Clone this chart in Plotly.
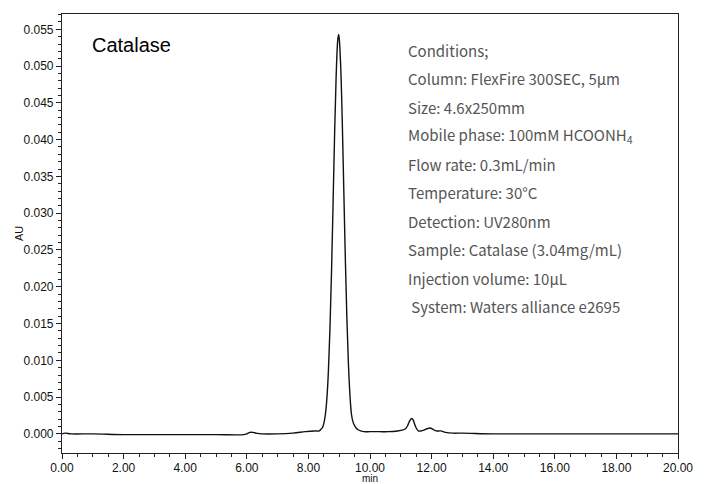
import plotly.graph_objects as go

# Chromatogram
time_min = [0.00, 0.10, 0.30, 1.00, 2.00, 3.00, 4.00, 5.00, 5.90, 6.00, 6.10, 6.20, 6.30, 6.50,
            7.00, 7.50, 7.90, 8.20, 8.35, 8.40, 8.45, 8.50, 8.55, 8.60, 8.65, 8.70, 8.75, 8.80,
            8.85, 8.90, 8.95, 8.98, 9.00, 9.05, 9.10, 9.15, 9.20, 9.25, 9.30, 9.35, 9.40, 9.45,
            9.50, 9.55, 9.60, 9.70, 9.80, 10.00, 10.30, 10.60, 10.90, 11.05, 11.15, 11.22, 11.28,
            11.35, 11.40, 11.45, 11.50, 11.57, 11.65, 11.75, 11.85, 11.95, 12.05, 12.15, 12.30,
            12.45, 12.70, 13.00, 14.00, 15.00, 16.00, 17.00, 18.00, 19.00, 20.00]
au = [0.0000, 0.0001, 0.0000, 0.0000, -0.0001, -0.0001, -0.0001, -0.0001, -0.0001, 0.0000, 0.0002,
      0.0002, 0.0001, 0.0000, 0.0000, 0.0001, 0.0003, 0.0004, 0.0004, 0.0006, 0.0008, 0.0014,
      0.0026, 0.0048, 0.0086, 0.0143, 0.0219, 0.0311, 0.0406, 0.0485, 0.0534, 0.0543, 0.0538,
      0.0498, 0.0424, 0.0330, 0.0237, 0.0156, 0.0095, 0.0052, 0.0026, 0.0016, 0.0011, 0.0008,
      0.0006, 0.0004, 0.0003, 0.0003, 0.0003, 0.0003, 0.0004, 0.0005, 0.0007, 0.0011, 0.0017,
      0.0021, 0.0019, 0.0013, 0.0008, 0.0004, 0.0004, 0.0005, 0.0007, 0.0008, 0.0006, 0.0004,
      0.0004, 0.0002, 0.0001, 0.0001, 0.0000, 0.0000, -0.0000, 0.0000, 0.0000, 0.0000, 0.0000]

x_tick_vals = [0, 2, 4, 6, 8, 10, 12, 14, 16, 18, 20]
y_tick_vals = [0.000, 0.005, 0.010, 0.015, 0.020, 0.025, 0.030, 0.035, 0.040, 0.045, 0.050, 0.055]

sample_name = "Catalase"
condition_lines = [
    "Conditions;",
    "Column: FlexFire 300SEC, 5µm",
    "Size: 4.6x250mm",
    "Mobile phase: 100mM HCOONH<sub>4</sub>",
    "Flow rate: 0.3mL/min",
    "Temperature: 30°C",
    "Detection: UV280nm",
    "Sample: Catalase (3.04mg/mL)",
    "Injection volume: 10µL",
    "\u00a0System: Waters alliance e2695",
]

# the page body adds an 8px offset; compensate so the plot area lands at 62..678 x 14..453
OFF = 8
W, H = 705 - OFF, 484 - OFF
ML, MR, MT, MB = 62 - OFF, 27, 14 - OFF, 31
PW, PH = W - ML - MR, H - MT - MB


def px_to_paper_y(py):
    return 1 - (py - OFF - MT) / PH


def px_to_paper_x(px):
    return (px - OFF - ML) / PW


fig = go.Figure()
fig.add_trace(go.Scatter(x=time_min, y=au, mode="lines",
                         line=dict(color="#111111", width=1.4), line_shape="spline",
                         hoverinfo="skip", showlegend=False))

tick_font = dict(family="Liberation Sans, Arial, sans-serif", size=12, color="#111111")

fig.update_xaxes(range=[0, 20], tickvals=x_tick_vals, tickformat=".2f", automargin=False,
                 ticks="outside", ticklen=5, tickwidth=1, tickcolor="#222", ticklabelstandoff=-2,
                 minor=dict(dtick=0.5, tick0=0, ticks="outside", ticklen=3, tickcolor="#222"),
                 showline=True, linecolor="#222", linewidth=1.2, mirror=True,
                 showgrid=False, zeroline=False, tickfont=tick_font)
fig.update_yaxes(range=[-0.0026, 0.05708], tickvals=y_tick_vals, tickformat=".3f", automargin=False,
                 ticks="outside", ticklen=5, tickwidth=1, tickcolor="#222",
                 minor=dict(dtick=0.001, tick0=0, ticks="outside", ticklen=3, tickcolor="#222"),
                 showline=True, linecolor="#222", linewidth=1.2, mirror=True,
                 showgrid=False, zeroline=False, tickfont=tick_font)

annotations = [
    dict(text=sample_name, xref="paper", yref="paper", x=px_to_paper_x(90), y=px_to_paper_y(45),
         xanchor="left", yanchor="middle", showarrow=False,
         font=dict(family="Liberation Sans, Arial, sans-serif", size=20, color="#000")),
    dict(text="AU", xref="paper", yref="paper", x=px_to_paper_x(19), y=px_to_paper_y(234),
         xanchor="center", yanchor="middle", showarrow=False, textangle=-90,
         font=dict(family="Liberation Sans, Arial, sans-serif", size=11, color="#111")),
    dict(text="min", xref="paper", yref="paper", x=px_to_paper_x(370), y=px_to_paper_y(478),
         xanchor="center", yanchor="middle", showarrow=False,
         font=dict(family="Liberation Sans, Arial, sans-serif", size=10, color="#111")),
]
line_y0, line_step = 50, 28.5
for i, txt in enumerate(condition_lines):
    annotations.append(dict(text=txt, xref="paper", yref="paper", x=px_to_paper_x(406),
                            y=px_to_paper_y(line_y0 + i * line_step),
                            xanchor="left", yanchor="middle", showarrow=False,
                            font=dict(family="Noto Sans CJK JP", size=15, color="#555555")))

fig.update_layout(width=W, height=H, margin=dict(l=ML, r=MR, t=MT, b=MB),
                  paper_bgcolor="white", plot_bgcolor="white", annotations=annotations)

fig.write_html("out.html")
